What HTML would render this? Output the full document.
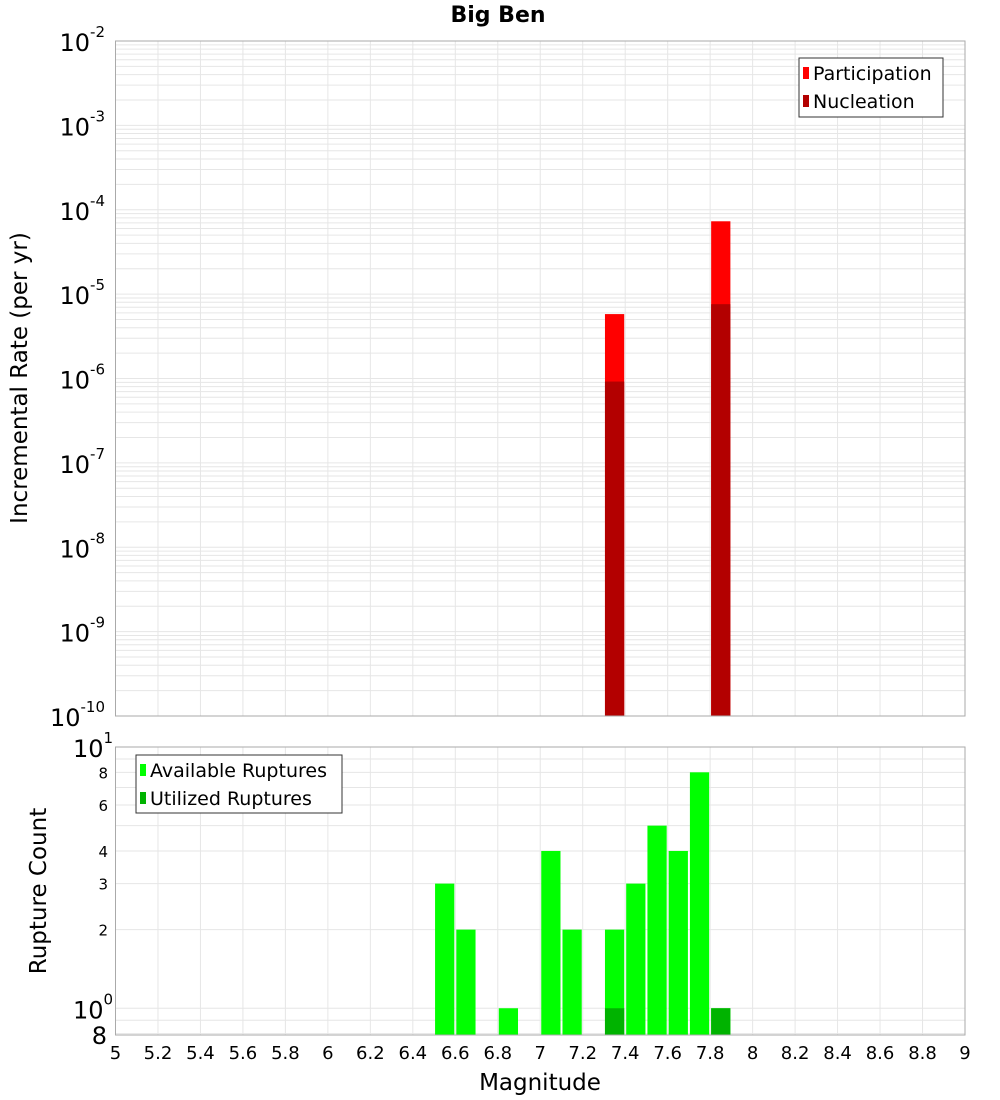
<!DOCTYPE html>
<html><head><meta charset="utf-8"><style>
body{margin:0;background:#fff}
svg{display:block;font-family:"DejaVu Sans","Liberation Sans",sans-serif}
</style></head><body>
<svg id="chart" width="1000" height="1100" viewBox="0 0 1000 1100" xmlns="http://www.w3.org/2000/svg">
<text x="498" y="22" text-anchor="middle" font-size="22" font-weight="bold">Big Ben</text>
<g id="topPlot"></g><g id="botPlot"></g>
<text transform="translate(27,378) rotate(-90)" text-anchor="middle" font-size="23">Incremental Rate (per yr)</text>
<text transform="translate(46,891) rotate(-90)" text-anchor="middle" font-size="23">Rupture Count</text>
<text x="540" y="1090" text-anchor="middle" font-size="23">Magnitude</text>
<g>
<rect x="799" y="58" width="144" height="59" fill="#fff" stroke="#333"/>
<rect x="803" y="67" width="6" height="12" fill="#ff0000"/><text x="813" y="80" font-size="19">Participation</text>
<rect x="803" y="95" width="6" height="12" fill="#b30000"/><text x="813" y="108" font-size="19">Nucleation</text>
</g>
<g>
<rect x="136" y="755" width="206" height="58" fill="#fff" stroke="#333"/>
<rect x="140" y="764" width="6" height="12" fill="#00ff00"/><text x="150" y="777" font-size="19">Available Ruptures</text>
<rect x="140" y="792" width="6" height="12" fill="#00b300"/><text x="150" y="805" font-size="19">Utilized Ruptures</text>
</g>
</svg>
<script>
const mags=[6.55,6.65,6.85,7.05,7.15,7.35,7.45,7.55,7.65,7.75,7.85];
const available=[3,2,1,4,2,2,3,5,4,8,1];
const utilMags=[7.35,7.85];
const utilized=[1,1];
const rateMags=[7.35,7.85];
const participation=[5.8e-6,7.3e-5];
const nucleation=[9.2e-7,7.6e-6];
const xTicks=[5,5.2,5.4,5.6,5.8,6,6.2,6.4,6.6,6.8,7,7.2,7.4,7.6,7.8,8,8.2,8.4,8.6,8.8,9];
const topExps=[-2,-3,-4,-5,-6,-7,-8,-9,-10];
const botSmallTicks=[8,6,4,3,2];

const NS="http://www.w3.org/2000/svg";
const L=115.5,R=965,T1=41,B1=716,T2=747,B2=1035;
const xs=m=>L+(m-5)/4*(R-L);
const yTop=v=>T1+(-2-Math.log10(v))/8*(B1-T1);
const yMin=0.79;
const yBot=v=>T2+(1-Math.log10(v))/(1-Math.log10(yMin))*(B2-T2);
function el(p,t,a){const e=document.createElementNS(NS,t);for(const k in a)e.setAttribute(k,a[k]);p.appendChild(e);return e;}
const tp=document.getElementById('topPlot'),bp=document.getElementById('botPlot');
for(let d=-10;d<-2;d++)for(let k=1;k<10;k++){const v=k*Math.pow(10,d);const g=el(tp,'line',{x1:L,x2:R,y1:yTop(v),y2:yTop(v),stroke:'#e6e6e6','stroke-width':1});

}
[0.8,0.9,1,2,3,4,5,6,7,8,9,10].forEach(v=>{if(v<yMin)return;const g=el(bp,'line',{x1:L,x2:R,y1:yBot(v),y2:yBot(v),stroke:'#e6e6e6','stroke-width':1});

});
xTicks.forEach(t=>{[[tp,T1,B1],[bp,T2,B2]].forEach(([p,a,b])=>{const g=el(p,'line',{x1:xs(t),x2:xs(t),y1:a,y2:b,stroke:'#e6e6e6','stroke-width':1});

});
const tx=el(bp,'text',{x:xs(t),y:1059,'text-anchor':'middle','font-size':18});tx.textContent=String(t);

});
const w=xs(5.1)-xs(5)-2;
rateMags.forEach((m,i)=>{
const p=el(tp,'rect',{x:xs(m-0.05)+1,y:yTop(participation[i]),width:w,height:B1-yTop(participation[i]),fill:'#ff0000'});


const n=el(tp,'rect',{x:xs(m-0.05)+1,y:yTop(nucleation[i]),width:w,height:B1-yTop(nucleation[i]),fill:'#b30000'});

});
mags.forEach((m,i)=>{const b=el(bp,'rect',{x:xs(m-0.05)+1,y:yBot(available[i]),width:w,height:B2-yBot(available[i]),fill:'#00ff00'});

});
utilMags.forEach((m,i)=>{const b=el(bp,'rect',{x:xs(m-0.05)+1,y:yBot(utilized[i]),width:w,height:B2-yBot(utilized[i]),fill:'#00b300'});

});
el(tp,'rect',{x:L,y:T1,width:R-L,height:B1-T1,fill:'none',stroke:'#aaa'});
el(bp,'rect',{x:L,y:T2,width:R-L,height:B2-T2,fill:'none',stroke:'#aaa'});
topExps.forEach(e=>{const y=yTop(Math.pow(10,e));const t=el(tp,'text',{x:105,y:y+10,'text-anchor':'end','font-size':24});


const a=el(t,'tspan',{});a.textContent='10';const s=el(t,'tspan',{dy:-14,'font-size':15});s.textContent=String(e);});
[[10,'1'],[1,'0']].forEach(([v,e])=>{const y=yBot(v);const t=el(bp,'text',{x:73,y:y+10,'font-size':24});


const a=el(t,'tspan',{});a.textContent='10';const s=el(t,'tspan',{dy:-14,'font-size':15});s.textContent=e;});
botSmallTicks.forEach(v=>{const t=el(bp,'text',{x:108,y:yBot(v)+6,'text-anchor':'end','font-size':15});t.textContent=String(v);

});
const t8=el(bp,'text',{x:107,y:B2+9,'text-anchor':'end','font-size':24});t8.textContent='8';


</script>
</body></html>
